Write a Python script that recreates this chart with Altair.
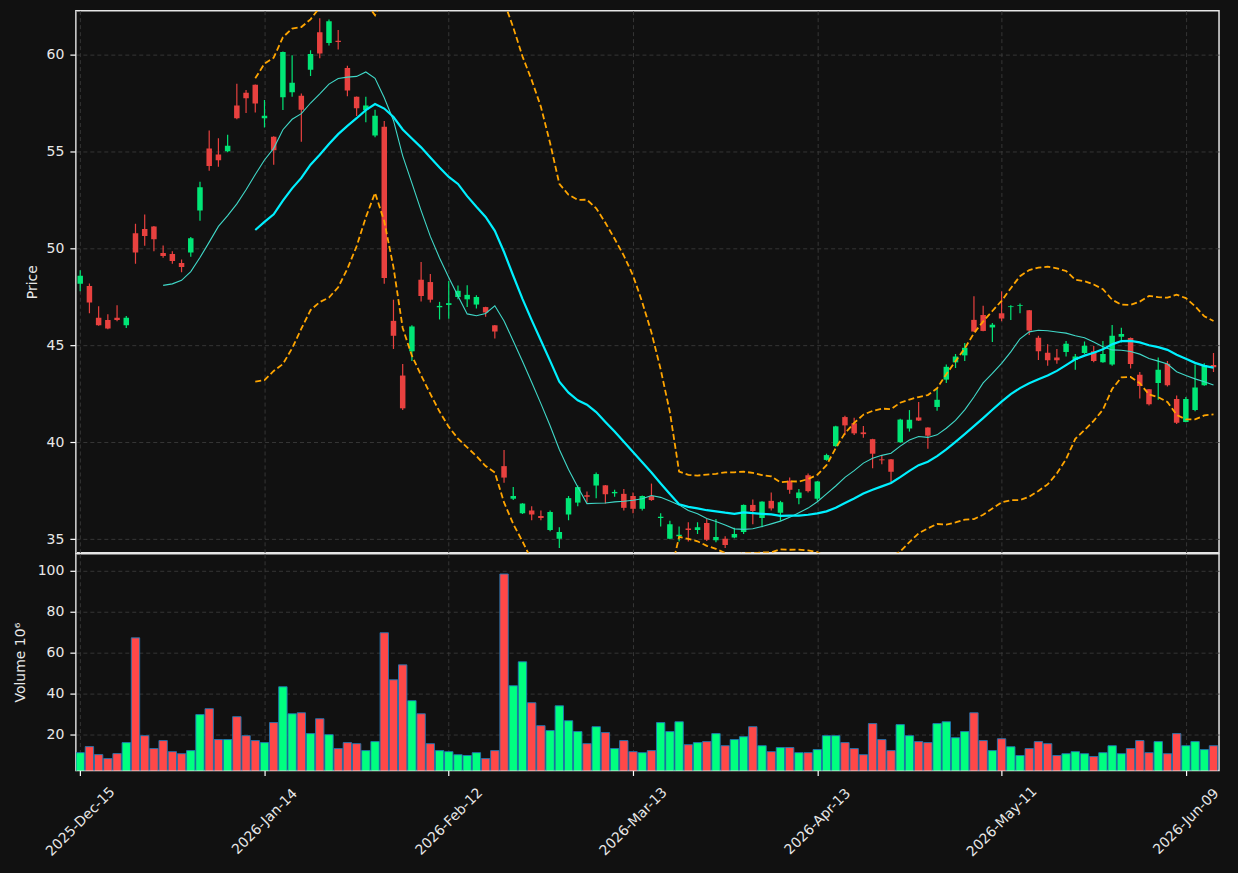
import altair as alt
import pandas as pd

# Daily OHLC prices and volume (millions), one row per trading session
opens = [48.17, 48.06, 46.42, 46.31, 46.42, 46.03, 50.77, 50.99, 51.13, 49.76,
         49.70, 49.24, 49.78, 51.95, 55.15, 54.84, 55.00, 57.36, 58.02, 58.43,
         56.70, 55.75, 57.79, 58.04, 57.86, 59.21, 61.14, 60.59, 60.70, 59.30,
         57.81, 57.13, 55.81, 56.27, 46.26, 43.44, 44.69, 48.38, 48.26, 46.96,
         47.08, 47.49, 47.37, 47.10, 46.97, 46.03, 38.77, 37.09, 36.34, 36.48,
         36.20, 35.48, 35.02, 36.27, 36.89, 37.27, 37.77, 37.78, 37.37, 37.34,
         37.23, 36.57, 37.23, 36.09, 35.02, 35.16, 35.55, 35.48, 35.84, 34.95,
         35.02, 35.09, 35.37, 36.77, 36.09, 36.98, 36.37, 38.02, 37.12, 38.30,
         37.09, 39.09, 39.80, 41.30, 40.98, 40.51, 40.16, 39.12, 39.12, 40.00,
         40.71, 41.28, 40.76, 41.82, 43.23, 44.12, 44.48, 46.31, 46.56, 45.92,
         46.65, 46.97, 47.04, 46.80, 45.39, 44.62, 44.37, 44.65, 44.24, 44.60,
         44.69, 44.12, 44.01, 45.44, 45.37, 43.48, 42.73, 43.05, 44.05, 42.23,
         41.05, 41.66, 42.94, 43.98]
highs = [48.87, 48.19, 47.01, 46.60, 47.06, 46.51, 51.27, 51.74, 51.15, 50.15,
         49.85, 49.42, 50.58, 53.43, 56.07, 55.68, 55.86, 58.48, 58.16, 58.45,
         57.64, 55.78, 60.15, 59.95, 57.98, 60.21, 61.86, 61.80, 61.25, 59.41,
         57.83, 57.81, 57.14, 56.56, 47.35, 44.03, 46.03, 49.29, 48.67, 47.24,
         48.31, 48.08, 48.10, 47.58, 46.99, 46.05, 39.60, 37.69, 36.86, 36.70,
         36.48, 36.48, 35.62, 37.23, 37.77, 37.46, 38.44, 37.80, 37.55, 37.59,
         37.41, 37.25, 37.87, 36.34, 35.95, 35.66, 35.87, 35.87, 36.04, 36.05,
         35.16, 35.59, 36.79, 37.05, 36.96, 37.41, 36.98, 38.18, 37.59, 38.39,
         38.00, 39.41, 40.85, 41.37, 41.26, 40.84, 40.18, 39.34, 39.14, 41.21,
         41.66, 42.08, 40.78, 42.80, 44.01, 44.55, 45.12, 47.53, 47.04, 46.15,
         47.78, 47.06, 47.15, 46.82, 45.49, 45.05, 44.81, 45.22, 44.55, 45.19,
         44.96, 45.22, 46.05, 45.90, 45.40, 43.62, 42.75, 44.37, 44.19, 42.41,
         42.33, 44.01, 44.08, 44.60]
lows = [47.79, 46.65, 46.01, 45.83, 46.24, 45.89, 49.20, 50.13, 49.85, 49.51,
        49.20, 48.76, 49.56, 51.42, 54.00, 54.20, 54.95, 56.65, 56.97, 57.00,
        56.23, 54.31, 57.13, 57.81, 55.49, 58.88, 59.80, 60.46, 60.25, 57.84,
        56.82, 56.50, 55.72, 48.17, 44.81, 41.66, 44.19, 47.26, 47.21, 46.33,
        46.37, 47.37, 46.97, 46.90, 46.47, 45.35, 37.91, 37.02, 36.30, 35.98,
        35.98, 35.41, 34.55, 35.98, 36.70, 36.89, 37.11, 36.84, 37.19, 36.48,
        36.34, 36.48, 36.98, 35.66, 35.00, 34.88, 34.88, 35.27, 34.91, 34.84,
        34.55, 35.05, 35.27, 35.77, 35.62, 36.48, 35.95, 37.34, 36.80, 37.41,
        36.98, 39.05, 39.77, 40.37, 40.37, 40.23, 38.66, 38.87, 37.94, 39.96,
        40.55, 41.10, 39.66, 41.62, 43.05, 43.83, 44.19, 45.70, 45.73, 45.17,
        46.24, 46.30, 46.65, 45.53, 44.24, 43.94, 44.05, 44.42, 43.74, 44.55,
        44.12, 44.10, 43.94, 45.14, 43.80, 42.26, 41.89, 42.19, 42.87, 40.94,
        41.03, 41.60, 42.91, 43.62]
closes = [48.58, 47.21, 46.03, 45.87, 46.31, 46.42, 49.78, 50.63, 50.47, 49.60,
          49.35, 49.03, 50.52, 53.15, 54.24, 54.54, 55.29, 56.70, 57.73, 57.47,
          56.84, 55.06, 60.12, 58.54, 57.14, 60.02, 60.04, 61.71, 60.64, 58.14,
          57.22, 57.36, 56.84, 48.47, 45.49, 41.75, 45.97, 47.54, 47.35, 47.03,
          47.17, 47.81, 47.60, 47.49, 46.69, 45.71, 38.18, 37.23, 36.84, 36.27,
          36.09, 36.41, 35.37, 37.12, 37.69, 37.19, 38.36, 37.32, 37.44, 36.62,
          36.57, 37.23, 37.02, 36.16, 35.77, 35.23, 35.48, 35.62, 34.98, 35.12,
          34.70, 35.27, 36.77, 36.45, 36.94, 36.59, 36.91, 37.55, 37.41, 37.48,
          37.98, 39.34, 40.82, 40.87, 40.46, 40.42, 39.41, 39.07, 38.48, 41.17,
          41.16, 41.12, 40.34, 42.19, 43.89, 44.42, 44.87, 45.71, 45.74, 46.06,
          46.38, 47.01, 47.08, 45.76, 44.69, 44.23, 44.23, 45.08, 44.42, 44.97,
          44.19, 44.55, 45.49, 45.58, 44.03, 42.90, 41.96, 43.74, 42.94, 41.00,
          42.23, 42.82, 43.98, 43.87]
volumes = [11.2, 14.15, 10.24, 8.3, 10.73, 16.1, 67.3, 19.5, 13.2, 17.1,
           11.7, 10.7, 12.2, 29.8, 32.7, 17.6, 17.6, 28.8, 19.5, 17.1,
           16.1, 25.9, 43.4, 30.2, 30.7, 20.5, 27.8, 20.0, 13.2, 16.1,
           15.6, 12.2, 16.6, 69.8, 46.8, 54.1, 36.6, 30.2, 15.6, 12.2,
           11.7, 10.2, 9.8, 11.2, 8.3, 12.2, 98.5, 43.9, 55.6, 35.6,
           24.4, 22.0, 34.1, 26.8, 21.5, 15.6, 23.9, 21.0, 13.2, 17.1,
           11.7, 11.2, 12.2, 25.9, 21.5, 26.3, 15.1, 16.1, 16.6, 20.5,
           14.6, 17.6, 19.0, 23.9, 14.6, 11.7, 13.7, 13.7, 11.2, 11.2,
           12.7, 19.5, 19.5, 16.1, 13.2, 10.2, 25.4, 17.6, 12.2, 24.9,
           19.5, 16.6, 16.1, 25.4, 26.3, 18.5, 21.5, 30.7, 17.1, 12.2,
           18.0, 14.1, 9.8, 13.2, 16.6, 15.6, 9.8, 10.7, 11.7, 10.7,
           9.3, 11.2, 14.6, 10.7, 13.2, 17.1, 11.2, 16.6, 10.7, 20.5,
           14.6, 16.6, 12.7, 14.6]

# Session dates shown on the x axis, one label every TICK_EVERY sessions
tick_labels = ["2025-Dec-15", "2026-Jan-14", "2026-Feb-12", "2026-Mar-13",
               "2026-Apr-13", "2026-May-11", "2026-Jun-09"]
TICK_EVERY = 20

# Colours
BG = "#111111"
FG = "#e8e8e8"
CANDLE_UP, CANDLE_DOWN = "#00e676", "#e8413f"
VOL_UP, VOL_DOWN, VOL_EDGE = "#00ff80", "#ff4848", "#1f77b4"
MA_SHORT, MA_LONG, BAND = "#40d8c8", "#00f0ff", "#ffa500"

n = len(closes)
df = pd.DataFrame({"i": list(range(n)), "open": opens, "high": highs,
                   "low": lows, "close": closes, "volume": volumes})
df["ma10"] = df["close"].rolling(10).mean()
roll20 = df["close"].rolling(20)
df["ma20"] = roll20.mean()
sd20 = roll20.std()
df["bb_up"] = df["ma20"] + 2 * sd20
df["bb_lo"] = df["ma20"] - 2 * sd20

tick_values = [k * TICK_EVERY for k in range(len(tick_labels))]
label_expr = ("[" + ",".join(f"'{t}'" for t in tick_labels) + "]"
              + f"[round(datum.value / {TICK_EVERY})]")

x_scale = alt.Scale(domain=[-0.47, n - 0.4], nice=False, zero=False, padding=0)
price_scale = alt.Scale(domain=[34.3, 62.25], nice=False, zero=False)
vol_scale = alt.Scale(domain=[0.3 * min(volumes), 1.1 * max(volumes)],
                      nice=False, zero=False)

PLOT_W = 1145
up_cond = "datum.close >= datum.open"

x_top = alt.X("i:Q", scale=x_scale,
              axis=alt.Axis(values=tick_values, labels=False, ticks=False,
                            domain=False, grid=True, title=None))
price_axis = alt.Axis(values=[35, 40, 45, 50, 55, 60], title="Price",
                      grid=True, tickSize=6, labelPadding=6, titlePadding=7)

base = alt.Chart(df)

wicks = base.mark_rule(strokeWidth=1.2, clip=True).encode(
    x=x_top,
    y=alt.Y("low:Q", scale=price_scale, axis=price_axis),
    y2="high:Q",
    color=alt.condition(up_cond, alt.value(CANDLE_UP), alt.value(CANDLE_DOWN)),
)
bodies = base.mark_bar(size=5.5, clip=True).encode(
    x=x_top,
    y=alt.Y("open:Q", scale=price_scale),
    y2="close:Q",
    color=alt.condition(up_cond, alt.value(CANDLE_UP), alt.value(CANDLE_DOWN)),
)


def line(field, color, width, dash=None):
    kw = dict(color=color, strokeWidth=width, clip=True)
    if dash:
        kw["strokeDash"] = dash
    return base.mark_line(**kw).encode(
        x=x_top, y=alt.Y(f"{field}:Q", scale=price_scale))


price = alt.layer(
    wicks, bodies,
    line("ma10", MA_SHORT, 1.1),
    line("ma20", MA_LONG, 2.2),
    line("bb_up", BAND, 1.8, [6, 3]),
    line("bb_lo", BAND, 1.8, [6, 3]),
).properties(width=PLOT_W, height=543)

volume = base.mark_bar(size=8.4, stroke=VOL_EDGE, strokeWidth=0.9,
                       clip=True).encode(
    x=alt.X("i:Q", scale=x_scale,
            axis=alt.Axis(values=tick_values, labelExpr=label_expr,
                          labelAngle=-45, labelAlign="center",
                          labelBaseline="middle", labelPadding=46,
                          tickSize=5, grid=True, domain=False, title=None)),
    y=alt.Y("volume:Q", scale=vol_scale,
            axis=alt.Axis(values=[20, 40, 60, 80, 100], title="Volume  10\u2076",
                          grid=True, tickSize=6, labelPadding=6,
                          titlePadding=10)),
    y2=alt.datum(0),
    color=alt.condition(up_cond, alt.value(VOL_UP), alt.value(VOL_DOWN)),
).properties(width=PLOT_W, height=217)

chart = alt.vconcat(price, volume, spacing=-1.5).properties(
    padding={"left": 12, "top": 9, "right": 16, "bottom": 30},
    background=BG,
).configure_view(
    fill=BG, stroke="#e6e6e6", strokeWidth=1.5,
).configure_axis(
    gridColor="#3a3a3a", gridDash=[4, 3], gridWidth=0.9,
    tickColor="#ffffff", tickWidth=1.2,
    labelColor=FG, labelFont="DejaVu Sans", labelFontSize=14,
    titleColor=FG, titleFont="DejaVu Sans", titleFontSize=14,
    titleFontWeight="normal",
)

chart.save("out.html", embed_options={"renderer": "svg", "actions": False})
